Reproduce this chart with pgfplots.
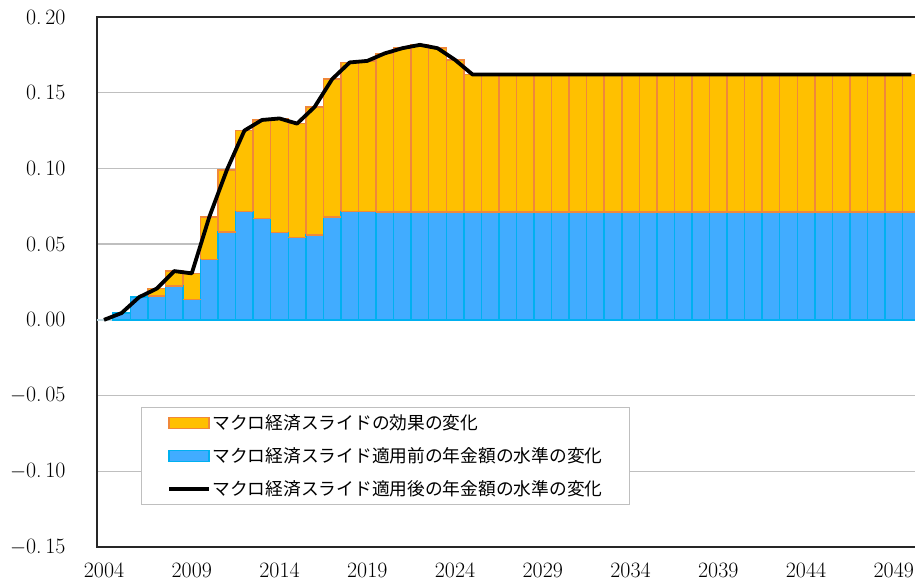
\documentclass[border=0pt]{standalone}
\usepackage{pgfplots}
\usepackage{pgfplotstable}
\pgfplotsset{compat=1.18}
\usepackage{fontspec}
\newfontfamily\cjk{Noto Sans CJK JP}
\definecolor{barorange}{RGB}{255,192,0}
\definecolor{edgeorange}{RGB}{240,136,58}
\definecolor{barblue}{RGB}{65,172,255}
\definecolor{edgeblue}{RGB}{0,176,240}
\definecolor{gridgray}{RGB}{191,191,191}
\definecolor{zerogray}{RGB}{190,214,222}

\pgfplotstableread{
year blue total
2004 0 0
2005 0.0045 0.0045
2006 0.015 0.015
2007 0.0156 0.0206
2008 0.0222 0.0322
2009 0.0134 0.0307
2010 0.0397 0.068
2011 0.0581 0.099
2012 0.0716 0.125
2013 0.0670 0.132
2014 0.0577 0.133
2015 0.0544 0.1296
2016 0.0561 0.1406
2017 0.0678 0.159
2018 0.0715 0.170
2019 0.0717 0.171
2020 0.0712 0.176
2021 0.0711 0.1794
2022 0.0711 0.1816
2023 0.0711 0.1794
2024 0.0711 0.1717
2025 0.0711 0.1620
2026 0.0711 0.1620
2027 0.0711 0.1620
2028 0.0711 0.1620
2029 0.0711 0.1620
2030 0.0711 0.1620
2031 0.0711 0.1620
2032 0.0711 0.1620
2033 0.0711 0.1620
2034 0.0711 0.1620
2035 0.0711 0.1620
2036 0.0711 0.1620
2037 0.0711 0.1620
2038 0.0711 0.1620
2039 0.0711 0.1620
2040 0.0711 0.1620
2041 0.0711 0.1620
2042 0.0711 0.1620
2043 0.0711 0.1620
2044 0.0711 0.1620
2045 0.0711 0.1620
2046 0.0711 0.1620
2047 0.0711 0.1620
2048 0.0711 0.1620
2049 0.0711 0.1620
2050 0.0711 0.1620
}\data

\begin{document}
\begin{tikzpicture}
\begin{axis}[
  width=823.1bp, height=530bp, scale only axis,
  xmin=2003.6, xmax=2050.5, ymin=-0.15, ymax=0.20,
  ytick={-0.15,-0.10,-0.05,0,0.05,0.10,0.15,0.20},
  yticklabels={$-$0.\,15,$-$0.\,10,$-$0.\,05,0.\,00,0.\,05,0.\,10,0.\,15,0.\,20},
  xtick={2004,2009,2014,2019,2024,2029,2034,2039,2044,2049},
  xticklabels={2004,2009,2014,2019,2024,2029,2034,2039,2044,2049},
  ymajorgrids, major grid style={gridgray, line width=1.3bp},
  extra y ticks={0}, extra y tick labels={},
  extra y tick style={grid=major, major grid style={zerogray, line width=1.5bp}},
  tick style={draw=none},
  axis line style={line width=1.8bp, black!85},
  ticklabel style={font=\fontsize{22}{26}\selectfont},
  xticklabel style={yshift=-12bp},
  yticklabel style={xshift=-28bp},
  legend cell align=left,
  legend style={at={(0.0535,0.2642)}, anchor=north west, draw=gridgray,
    line width=1.2bp, fill=white, inner xsep=25.5bp, inner ysep=1.5bp,
    row sep=5bp, font=\cjk\fontsize{17.8}{21}\selectfont,
    nodes={inner xsep=1.5bp, inner ysep=5.8bp}},
]
\addlegendimage{legend image code/.code={\draw[fill=barorange, draw=edgeorange, line width=1.5bp] (0bp,-5.5bp) rectangle (40bp,5.5bp);}}
\addlegendentry{マクロ経済スライドの効果の変化}
\addlegendimage{legend image code/.code={\draw[fill=barblue, draw=edgeblue, line width=1.5bp] (0bp,-5.5bp) rectangle (40bp,5.5bp);}}
\addlegendentry{マクロ経済スライド適用前の年金額の水準の変化}
\addlegendimage{legend image code/.code={\draw[black, line width=3.8bp] (0bp,0bp) -- (40bp,0bp);}}
\addlegendentry{マクロ経済スライド適用後の年金額の水準の変化}

\addplot[ybar, bar width=1, bar shift=0pt, fill=barorange, draw=edgeorange, line width=1.5bp, forget plot,
  restrict x to domain=2007:2050] table[x=year, y=total] {\data};
\addplot[ybar, bar width=1, bar shift=0pt, fill=barblue, draw=edgeblue, line width=1.5bp, forget plot,
  restrict x to domain=2005:2050] table[x=year, y=blue] {\data};
\addplot[only marks, mark=-, mark size=8.78bp, mark options={draw=edgeorange, line width=1.5bp}, forget plot,
  restrict x to domain=2007:2050] table[x=year, y=blue] {\data};
\addplot[sharp plot, black, line width=3.8bp, line join=round, mark=none, forget plot] table[x=year, y=total] {\data};
\end{axis}
\pgfresetboundingbox
\path[use as bounding box] (-97bp,-35bp) rectangle (818bp,547bp);
\end{tikzpicture}
\end{document}
